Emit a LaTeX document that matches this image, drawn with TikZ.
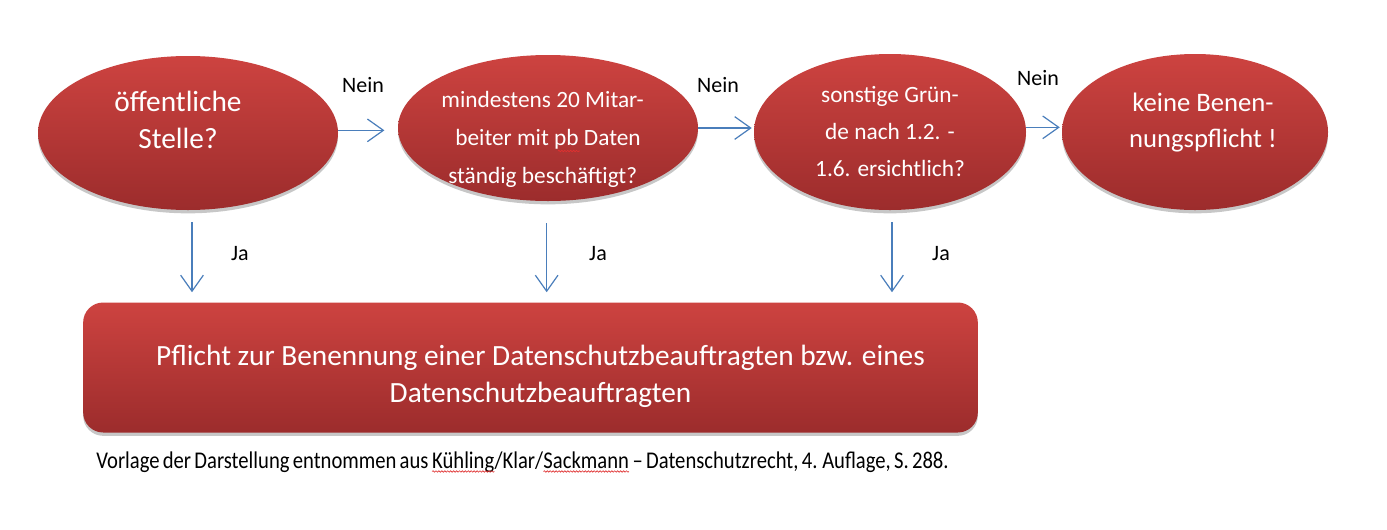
\documentclass[tikz,border=0pt]{standalone}
\usepackage{fontspec}
\setmainfont{Carlito}
\newfontfamily\footfont[FakeStretch=0.86,WordSpace=0.7]{Carlito}
\usetikzlibrary{shapes.geometric,arrows.meta,shadows,calc,decorations.pathmorphing}
\definecolor{redtop}{HTML}{CD4340}
\definecolor{redbot}{HTML}{9C2C2C}
\definecolor{arrblue}{HTML}{4A7EBB}
\definecolor{spellred}{HTML}{E03030}
\newcommand\hstrut[1]{\rule{0pt}{#1}}
\newcommand\dstrut[1]{\rule[-#1]{0pt}{#1}}
\tikzset{
  wave/.style={spellred, line width=0.5pt, decorate, decoration={snake, segment length=2.2pt, amplitude=0.55pt}},
}
\newcommand\spell[1]{\tikz[baseline=0pt,x=1pt,y=1pt]{\path node[rectangle,anchor=base west,inner sep=0pt,outer sep=0pt] (sp) at (0,0) {#1};
  \draw[wave] ([yshift=-2.6pt]sp.base west) -- ([yshift=-2.6pt]sp.base east);}}
\tikzset{
  bubble/.style={ellipse, inner sep=0pt, top color=redtop, bottom color=redbot,
    draw=none, text=white, align=center,
    drop shadow={shadow xshift=0pt, shadow yshift=-2.5pt, opacity=0.22, fill=black}},
  bigbox/.style={rectangle, rounded corners=15pt, inner sep=0pt, top color=redtop, bottom color=redbot,
    draw=none, text=white, align=center,
    drop shadow={shadow xshift=0pt, shadow yshift=-2.5pt, opacity=0.22, fill=black}},
  arr/.style={draw=arrblue, line width=0.9pt, -{Straight Barb[length=12pt,width=17pt,line width=0.9pt]}},
  lbl/.style={anchor=base, inner sep=0pt, font=\fontsize{16.5}{18}\selectfont},
}
\begin{document}
\begin{tikzpicture}[x=0.75pt,y=-0.75pt]
\useasboundingbox (0,0) rectangle (1387,529);
\fill[white] (0,0) rectangle (1387,529);
% ellipses
\node[bubble, minimum width=225pt, minimum height=115.5pt,
  font=\fontsize{22}{27.75}\selectfont] (e1) at (188,133)
  {öffentliche\hspace*{15pt}\\Stelle?\hspace*{15pt}\dstrut{20pt}};
\node[bubble, inner xsep=-8pt, inner ysep=-25pt, minimum width=225pt, minimum height=109.5pt,
  font=\fontsize{17.5}{28.5}\selectfont] (e2) at (548,128)
  {\hstrut{29pt}mindestens 20 Mitar-\hspace*{8pt}\\beiter mit pb Daten\hspace*{8pt}\\ständig beschäftigt?\hspace*{8pt}};
\node[bubble, minimum width=204pt, minimum height=117pt,
  font=\fontsize{17.5}{27.75}\selectfont] (e3) at (890,132)
  {sonstige Grün-\\de nach 1.2. -\\1.6. ersichtlich?};
\node[bubble, minimum width=199.5pt, minimum height=117pt,
  font=\fontsize{20}{27}\selectfont] (e4) at (1195,132)
  {\hspace*{12pt}keine Benen-\\\hspace*{12pt}nungspflicht !\dstrut{18pt}};
% spell-check mark under "pb"
\coordinate (pbl) at (558,151);
\coordinate (pbr) at (580,151);
\draw[wave] (pbl) -- (pbr);
% box
\node[bigbox, minimum width=671pt, minimum height=97.5pt,
  font=\fontsize{22}{27.75}\selectfont] (box) at (530.5,367.5)
  {\hstrut{28.5pt}\hspace*{15pt}Pflicht zur Benennung einer Datenschutzbeauftragten bzw. eines\\\hspace*{15pt}Datenschutzbeauftragten};
% horizontal arrows
\draw[arr, shorten >=10pt] ([yshift=2pt]e1.east) -- ([yshift=2pt]e2.west |- e1.east);
\draw[arr, shorten >=1.5pt] (e2.east) -- (e3.west |- e2.east);
\draw[arr, shorten >=1.5pt] ([yshift=3.5pt]e3.east) -- ([yshift=3.5pt]e4.west |- e3.east);
% vertical arrows
\draw[arr, shorten <=9pt, shorten >=7.5pt] ([xshift=3pt]e1.south) -- ([xshift=3pt]e1.south |- box.north);
\draw[arr, shorten <=16.5pt, shorten >=7.5pt] ([xshift=-1pt]e2.south) -- ([xshift=-1pt]e2.south |- box.north);
\draw[arr, shorten <=9pt, shorten >=7.5pt] ([xshift=1.5pt]e3.south) -- ([xshift=1.5pt]e3.south |- box.north);
% labels
\node[lbl] (n1) at (363,92) {Nein};
\node[lbl] (n2) at (718,92) {Nein};
\node[lbl] (n3) at (1038,85) {Nein};
\node[lbl] (j1) at (240,260) {Ja};
\node[lbl] (j2) at (598,260) {Ja};
\node[lbl] (j3) at (941,260) {Ja};
% footnote
\node[anchor=base west, inner sep=0pt, font=\footfont\fontsize{18}{20}\selectfont] (foot) at (96,468)
  {Vorlage der Darstellung entnommen aus \spell{Kühling}/Klar/\spell{Sackmann} – Datenschutzrecht, 4. Auflage, S. 288.};
\end{tikzpicture}
\end{document}
